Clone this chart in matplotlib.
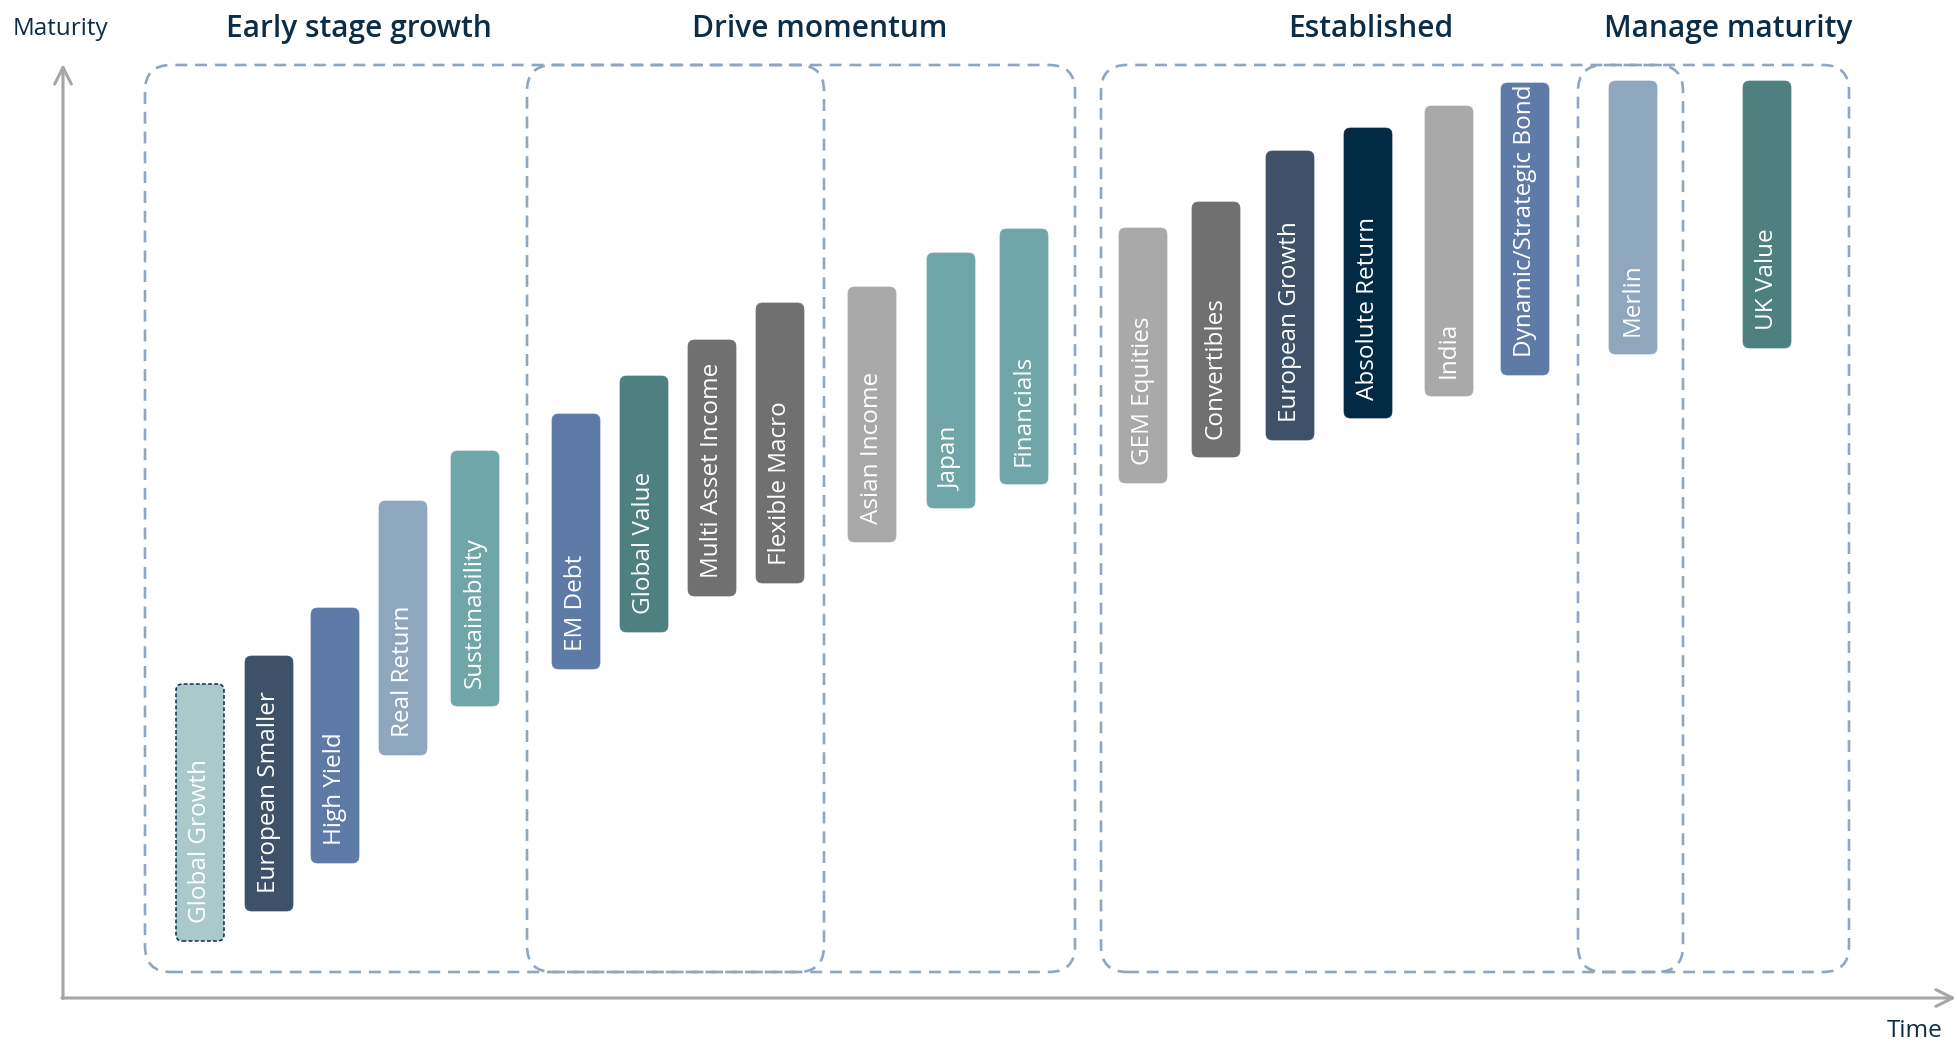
import matplotlib
matplotlib.use("Agg")
import matplotlib.pyplot as plt
from matplotlib.patches import FancyBboxPatch

plt.rcParams['font.family'] = ['Open Sans', 'DejaVu Sans']

# funds along the time axis, with the maturity range each one covers
funds = ["Global Growth", "European Smaller", "High Yield", "Real Return", "Sustainability",
         "EM Debt", "Global Value", "Multi Asset Income", "Flexible Macro",
         "Asian Income", "Japan", "Financials",
         "GEM Equities", "Convertibles", "European Growth", "Absolute Return", "India",
         "Dynamic/Strategic Bond", "Merlin", "UK Value"]
time_pos = [13.7, 20.6, 27.2, 34.0, 41.2,
            51.3, 58.1, 64.9, 71.7,
            80.9, 88.8, 96.1,
            108.0, 115.3, 122.7, 130.5, 138.6,
            146.2, 157.0, 170.4]
mat_low = [5.7, 8.7, 13.5, 24.3, 29.2,
           32.9, 36.6, 40.2, 41.5,
           45.6, 49.0, 51.4,
           51.5, 54.1, 55.8, 58.0, 60.2,
           62.3, 64.4, 65.0]
mat_high = [31.4, 34.2, 39.0, 49.7, 54.7,
            58.4, 62.2, 65.8, 69.5,
            71.1, 74.5, 76.9,
            77.0, 79.6, 84.7, 87.0, 89.2,
            91.5, 91.7, 91.7]
colors = ["#A9C9CA", "#3D5269", "#5E7BA8", "#8FA6BF", "#70A6A7",
          "#5E7BA8", "#4F8080", "#707070", "#707070",
          "#A9A9A9", "#70A6A7", "#70A6A7",
          "#A9A9A9", "#707070", "#3D5269", "#032A45", "#A9A9A9",
          "#5E7BA8", "#8FA6BF", "#4F8080"]

# stage groups: dashed frames (time span) and headings
stages = ["Early stage growth", "Drive momentum", "Established", "Manage maturity"]
stage_title_pos = [29.6, 75.7, 130.8, 166.5]
frame_start = [8.2, 46.4, 103.8, 151.5]
frame_end = [76.1, 101.2, 162.0, 178.6]
frame_low, frame_high = 2.6, 93.3

navy = "#0C2D48"
bar_w = 4.8

fig = plt.figure(figsize=(19.58, 10.41), dpi=100)
ax = fig.add_axes([0, 0, 1, 1])
ax.set_xlim(-6.3, 189.5)
ax.set_ylim(-4.3, 99.8)
ax.axis("off")

for s, e in zip(frame_start, frame_end):
    ax.add_patch(FancyBboxPatch((s, frame_low), e - s, frame_high - frame_low,
                                boxstyle="round,pad=0,rounding_size=2.6",
                                fill=False, ec="#8FA6BF", lw=1.9,
                                ls=(0, (4.5, 3))))

for name, t, lo, hi, c in zip(funds, time_pos, mat_low, mat_high, colors):
    if name == "Global Growth":
        ec, ls, lw = navy, (0, (2.5, 1.5)), 1.1
    else:
        ec, ls, lw = c, "-", 0.5
    ax.add_patch(FancyBboxPatch((t - bar_w / 2, lo), bar_w, hi - lo,
                                boxstyle="round,pad=0,rounding_size=0.65",
                                fc=c, ec=ec, ls=ls, lw=lw, zorder=3))
    ax.text(t, lo + 1.8, name, rotation=90, ha="center", va="bottom",
            color="white", fontsize=17.5, zorder=4)

for title, x in zip(stages, stage_title_pos):
    ax.text(x, 96.9, title, ha="center", va="center", color=navy,
            fontsize=21.5, fontweight="semibold")

# axes arrows
ax.annotate("", xy=(0, 93.4), xytext=(0, -0.05),
            arrowprops=dict(arrowstyle="->,head_length=1.2,head_width=0.6",
                            color="#A6A6A6", lw=2.2, shrinkA=0, shrinkB=0))
ax.annotate("", xy=(189.3, 0), xytext=(-0.1, 0),
            arrowprops=dict(arrowstyle="->,head_length=1.2,head_width=0.6",
                            color="#A6A6A6", lw=2.2, shrinkA=0, shrinkB=0))
ax.text(-5.0, 96.9, "Maturity", ha="left", va="center", color=navy, fontsize=17.5)
ax.text(188.0, -3.3, "Time", ha="right", va="center", color=navy, fontsize=17.5)

fig.savefig("out.png", dpi=100)
